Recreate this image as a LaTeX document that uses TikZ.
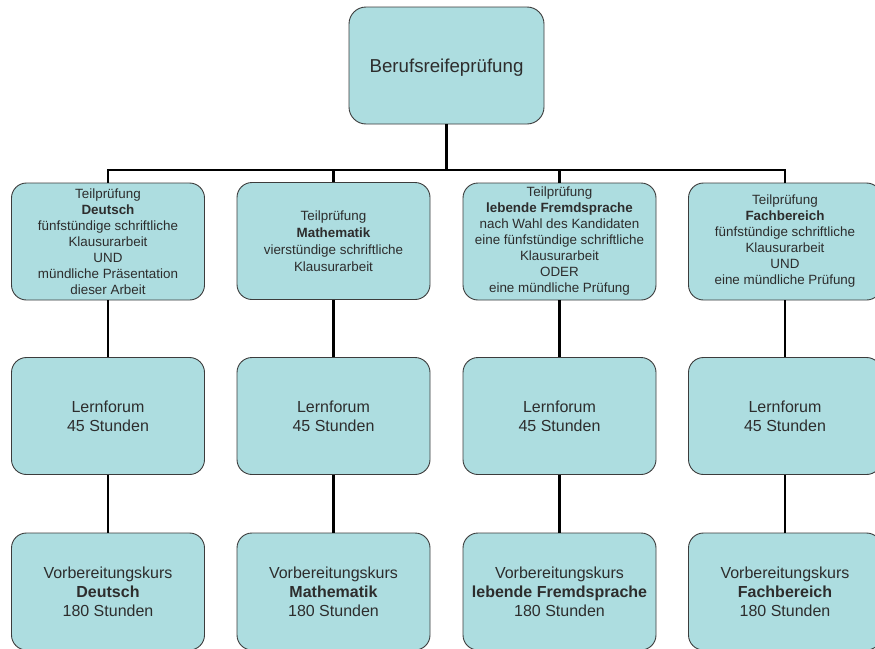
\documentclass[tikz,border=0pt]{standalone}
\usepackage{fontspec}
\setmainfont{Liberation Sans}
\definecolor{boxfill}{RGB}{173,221,224}
\definecolor{boxline}{RGB}{60,60,60}
\definecolor{txt}{RGB}{45,45,45}
\begin{document}
\begin{tikzpicture}[x=1pt,y=-1pt,
  box/.style={draw=boxline, line width=0.9pt, fill=boxfill, rounded corners=15pt,
    minimum width=193pt, minimum height=117pt, inner sep=0pt, align=center, text=txt},
  smalltxt/.style={font=\fontsize{13.4}{16}\selectfont},
  midtxt/.style={font=\fontsize{16}{19}\selectfont},
  conn/.style={draw=black, line width=2.9pt, line join=miter}]
\useasboundingbox (0,0) rectangle (875,648);
\fill[white] (0,0) rectangle (875,648);

\node[box, minimum width=195pt, minimum height=117pt, rounded corners=17pt,
  font=\fontsize{18.7}{22}\selectfont, text depth=0pt] (top) at (446.5,65.5) {Berufsreifeprüfung};

\node[box, smalltxt] (r1c1) at (108,241.5) {Teilprüfung\\\textbf{Deutsch}\\fünfstündige schriftliche\\Klausurarbeit\\UND\\mündliche Präsentation\\dieser Arbeit};
\node[box, smalltxt, font=\fontsize{13.4}{17}\selectfont] (r1c2) at (333.5,241) {Teilprüfung\\\textbf{Mathematik}\\vierstündige schriftliche\\Klausurarbeit};
\node[box, smalltxt] (r1c3) at (559.5,241.5) {Teilprüfung\\\textbf{lebende Fremdsprache}\\nach Wahl des Kandidaten\\eine fünfstündige schriftliche\\Klausurarbeit\\ODER\\eine mündliche Prüfung};
\node[box, smalltxt] (r1c4) at (785,241.5) {Teilprüfung\\\textbf{Fachbereich}\\fünfstündige schriftliche\\Klausurarbeit\\UND\\eine mündliche Prüfung};

\node[box, midtxt] (r2c1) at (108,416) {Lernforum\\45 Stunden};
\node[box, midtxt] (r2c2) at (333.5,416) {Lernforum\\45 Stunden};
\node[box, midtxt] (r2c3) at (559.5,416) {Lernforum\\45 Stunden};
\node[box, midtxt] (r2c4) at (785,416) {Lernforum\\45 Stunden};

\node[box, midtxt] (r3c1) at (108,591.5) {Vorbereitungskurs\\\textbf{Deutsch}\\180 Stunden};
\node[box, midtxt] (r3c2) at (333.5,591.5) {Vorbereitungskurs\\\textbf{Mathematik}\\180 Stunden};
\node[box, midtxt] (r3c3) at (559.5,591.5) {Vorbereitungskurs\\\textbf{lebende Fremdsprache}\\180 Stunden};
\node[box, midtxt] (r3c4) at (785,591.5) {Vorbereitungskurs\\\textbf{Fachbereich}\\180 Stunden};

\coordinate (bus) at (446.5,170);
\draw[conn] (top.south) -- (bus);
\draw[conn] (r1c1.north) -- (r1c1.north |- bus) -- (r1c4.north |- bus) -- (r1c4.north);
\draw[conn] (r1c2.north) -- (r1c2.north |- bus);
\draw[conn] (r1c3.north) -- (r1c3.north |- bus);
\foreach \c in {1,2,3,4}{
  \draw[conn] (r1c\c.south) -- (r2c\c.north);
  \draw[conn] (r2c\c.south) -- (r3c\c.north);
}
\end{tikzpicture}
\end{document}
